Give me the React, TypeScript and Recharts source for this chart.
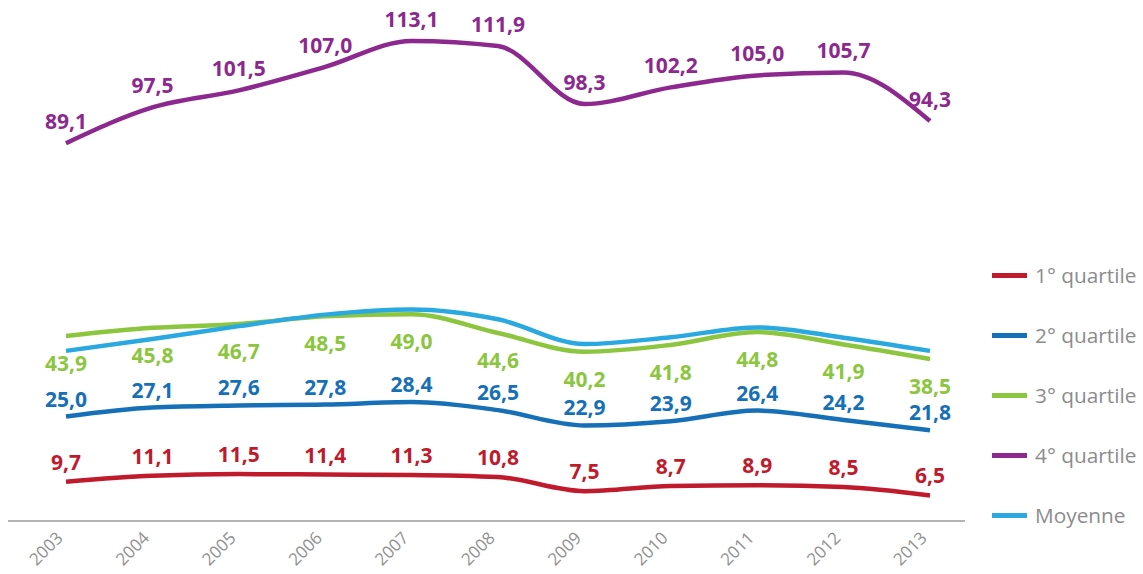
import { LineChart, Line, XAxis, YAxis, LabelList } from "recharts";

const years = ["2003", "2004", "2005", "2006", "2007", "2008", "2009", "2010", "2011", "2012", "2013"];
const q1 = [9.7, 11.1, 11.5, 11.4, 11.3, 10.8, 7.5, 8.7, 8.9, 8.5, 6.5];
const q2 = [25.0, 27.1, 27.6, 27.8, 28.4, 26.5, 22.9, 23.9, 26.4, 24.2, 21.8];
const q3 = [43.9, 45.8, 46.7, 48.5, 49.0, 44.6, 40.2, 41.8, 44.8, 41.9, 38.5];
const q4 = [89.1, 97.5, 101.5, 107.0, 113.1, 111.9, 98.3, 102.2, 105.0, 105.7, 94.3];
// no labels on the average line
const moyenne = [40.4, 43.2, 46.2, 48.9, 50.1, 47.8, 42.0, 43.6, 45.9, 43.5, 40.4];

const series = [
  { key: "q1", name: "1° quartile", color: "#c01a2d", label: "top", offset: 12 },
  { key: "q2", name: "2° quartile", color: "#1670b7", label: "top", offset: 10 },
  { key: "q3", name: "3° quartile", color: "#8cc63f", label: "bottom", offset: 20 },
  { key: "q4", name: "4° quartile", color: "#8c288e", label: "top", offset: 14 },
  { key: "moyenne", name: "Moyenne", color: "#29a9e0", label: null, offset: 0 },
];

const data = years.map((year, i) => ({
  year,
  q1: q1[i],
  q2: q2[i],
  q3: q3[i],
  q4: q4[i],
  moyenne: moyenne[i],
}));

const fmt = (v: any) => Number(v).toFixed(1).replace(".", ",");

function YearTick({ x, y, payload }: any) {
  return (
    <g transform={`translate(${x - 2},${y + 10}) rotate(-45)`}>
      <text
        x={0}
        y={0}
        textAnchor="end"
        fill="#909090"
        fontSize={17}
        fontFamily="'Open Sans', sans-serif"
      >
        {payload.value}
      </text>
    </g>
  );
}

export default function App() {
  return (
    <div style={{ position: "absolute", left: 0, top: 0, width: 1143, height: 574, background: "#fff" }}>
      <LineChart
        width={1143}
        height={574}
        data={data}
        margin={{ top: 20, right: 178, left: 8, bottom: 8 }}
      >
        <XAxis
          dataKey="year"
          height={45}
          tick={<YearTick />}
          tickLine={false}
          axisLine={{ stroke: "#9a9a9a", strokeWidth: 1.5 }}
          padding={{ left: 58, right: 35 }}
          interval={0}
        />
        <YAxis hide domain={[0.5, 118]} />
        {series.map((s) => (
          <Line
            key={s.key}
            dataKey={s.key}
            name={s.name}
            type="monotone"
            stroke={s.color}
            strokeWidth={4.5}
            dot={false}
            activeDot={false}
            isAnimationActive={false}
          >
            {s.label && (
              <LabelList
                dataKey={s.key}
                position={s.label as any}
                offset={s.offset}
                formatter={fmt}
                fill={s.color}
                fontSize={21}
                fontWeight={700}
                fontFamily="'Open Sans', sans-serif"
              />
            )}
          </Line>
        ))}
      </LineChart>
      <div style={{ position: "absolute", left: 992, top: 245 }}>
        {series.map((s) => (
          <div key={s.key} style={{ display: "flex", alignItems: "center", height: 60 }}>
            <div style={{ width: 35, height: 5, background: s.color, marginRight: 8 }} />
            <span style={{ fontFamily: "'Open Sans', sans-serif", fontSize: 20.8, color: "#8c8c8c", lineHeight: "24px" }}>
              {s.name}
            </span>
          </div>
        ))}
      </div>
    </div>
  );
}
